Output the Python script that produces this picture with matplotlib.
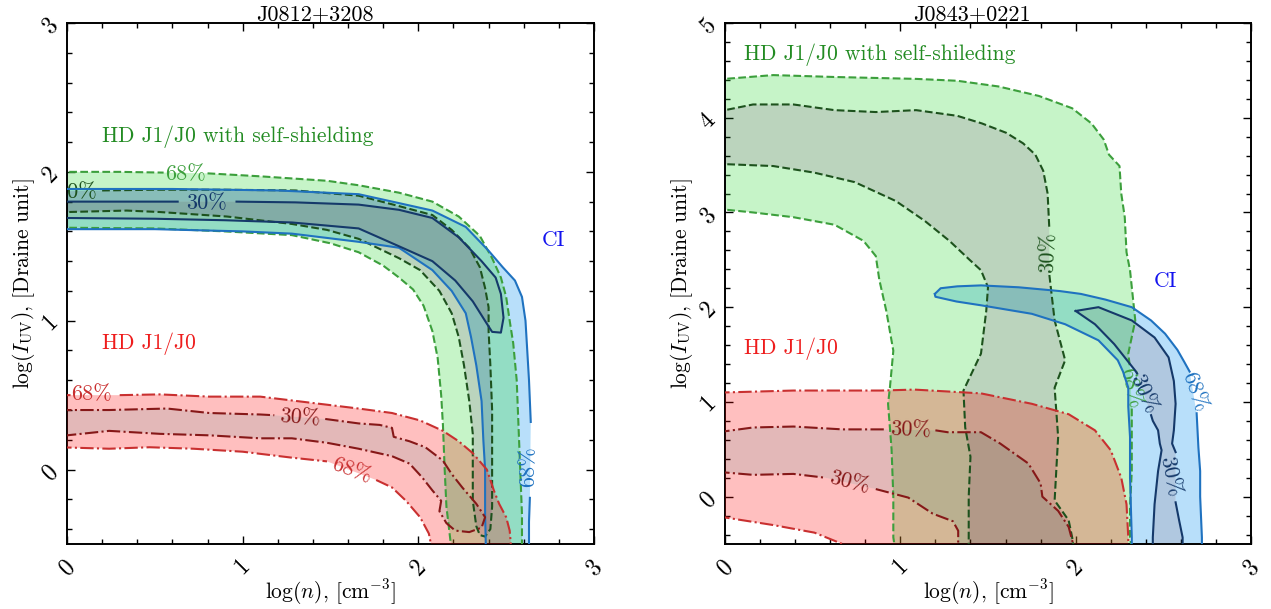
import numpy as np
import matplotlib
matplotlib.use("Agg")
import matplotlib.pyplot as plt
from matplotlib.path import Path
from matplotlib.patches import PathPatch
from matplotlib.ticker import MultipleLocator

plt.rcParams.update({
    "font.family": "serif",
    "font.serif": ["cmr10"],
    "mathtext.fontset": "cm",
    "axes.formatter.use_mathtext": True,
    "font.size": 15,
    "axes.linewidth": 1.4,
})

# ---------------- data: contour boundaries ----------------
# None marks a gap in the drawn line (where a contour label sits)

# ---- left panel: J0812+3208 ----
L_G68_UP = [(-0.05, 2.00), (0.30, 2.00), (0.55, 1.995), None, (0.80, 1.99), (1.10, 1.97),
            (1.48, 1.94), (1.66, 1.91), (1.89, 1.86), (2.08, 1.80), (2.23, 1.70), (2.35, 1.57),
            (2.42, 1.42), (2.47, 1.29), (2.50, 1.16), (2.52, 1.00), (2.54, 0.85), (2.56, 0.60),
            (2.57, 0.30), (2.58, 0.00), (2.59, -0.30), (2.59, -0.55)]
L_G68_LO = [(-0.05, 1.625), (0.50, 1.62), (0.90, 1.60), (1.28, 1.575), (1.50, 1.52),
            (1.66, 1.46), (1.80, 1.37), (1.89, 1.29), (1.97, 1.21), (2.03, 1.10), (2.08, 0.93),
            (2.11, 0.75), (2.13, 0.50), (2.14, 0.30), (2.15, 0.00), (2.16, -0.25), (2.19, -0.55)]
L_G30_UP = [(-0.05, 1.87), (0.00, 1.87), None, (0.20, 1.875), (0.50, 1.88), (0.90, 1.88),
            (1.30, 1.875), (1.66, 1.84), (1.89, 1.77), (2.08, 1.71), (2.19, 1.61), (2.29, 1.49),
            (2.35, 1.36), (2.38, 1.22), (2.40, 1.09), (2.40, 0.93), (2.41, 0.70), (2.42, 0.40),
            (2.42, 0.00), (2.42, -0.25), (2.41, -0.40), (2.38, -0.45), (2.35, -0.44)]
L_G30_LO = [(-0.05, 1.73), (0.00, 1.73), (0.34, 1.74), (0.53, 1.73), (0.91, 1.70),
            (1.28, 1.65), (1.48, 1.61), (1.66, 1.55), (1.89, 1.42), (2.01, 1.34), (2.12, 1.20),
            (2.19, 1.05), (2.23, 0.89), (2.26, 0.70), (2.29, 0.46), (2.31, 0.24), (2.31, -0.21),
            (2.33, -0.38), (2.35, -0.44)]
L_B68_UP = [(-0.05, 1.885), (0.60, 1.885), (1.20, 1.875), (1.66, 1.85), (1.89, 1.79),
            (2.08, 1.74), (2.27, 1.63), (2.40, 1.47), (2.48, 1.36), (2.55, 1.27), (2.59, 1.16),
            (2.61, 1.00), (2.62, 0.80), (2.63, 0.60), (2.64, 0.32), None, (2.635, -0.19),
            (2.63, -0.35), (2.63, -0.55)]
L_B68_LO = [(-0.05, 1.615), (0.50, 1.615), (1.00, 1.60), (1.28, 1.585), (1.66, 1.53),
            (1.89, 1.49), (2.08, 1.34), (2.19, 1.20), (2.27, 1.05), (2.30, 0.89), (2.33, 0.70),
            (2.36, 0.46), (2.37, 0.20), (2.38, 0.00), (2.38, -0.30), (2.385, -0.55)]
L_B30 = [(-0.05, 1.80), (0.30, 1.80), (0.63, 1.80), None, (0.965, 1.80), (1.30, 1.795),
         (1.66, 1.78), (1.89, 1.745), (2.08, 1.69), (2.23, 1.56), (2.36, 1.40), (2.44, 1.29),
         (2.47, 1.18), (2.485, 1.02), (2.47, 0.92), (2.42, 0.925), (2.39, 0.98), (2.31, 1.13),
         (2.21, 1.27), (2.08, 1.40), (1.89, 1.50), (1.66, 1.62), (1.28, 1.66), (0.90, 1.675),
         (0.50, 1.685), (0.00, 1.69), (-0.05, 1.69)]
L_R68_UP = [(-0.05, 0.50), (0.02, 0.50), None, (0.30, 0.50), (0.53, 0.505), (0.81, 0.49),
            (1.10, 0.49), (1.38, 0.45), (1.66, 0.41), (1.85, 0.38), (2.01, 0.33), (2.14, 0.26),
            (2.23, 0.19), (2.31, 0.11), (2.39, 0.00), (2.43, -0.14), (2.46, -0.23), (2.50, -0.32),
            (2.52, -0.41), (2.53, -0.55)]
L_R68_LO = [(-0.05, 0.15), (0.24, 0.14), (0.47, 0.15), (0.72, 0.14), (1.00, 0.12),
            (1.28, 0.08), (1.48, 0.055), None, (1.76, -0.07), (1.85, -0.12), (1.93, -0.21),
            (2.01, -0.32), (2.06, -0.43), (2.08, -0.55)]
L_R30 = [(-0.05, 0.40), (0.24, 0.40), (0.57, 0.41), (0.81, 0.38), (1.10, 0.37), (1.18, 0.365),
         None, (1.47, 0.34), (1.66, 0.31), (1.78, 0.30), (1.85, 0.28), (1.86, 0.22), (1.95, 0.19),
         (2.04, 0.15), (2.14, 0.06), (2.19, -0.03), (2.25, -0.12), (2.33, -0.23), (2.38, -0.32),
         (2.36, -0.39), (2.29, -0.42), (2.21, -0.41), (2.16, -0.36), (2.12, -0.28), (2.13, -0.21),
         (2.08, -0.14), (2.02, -0.05), (1.95, 0.04), (1.85, 0.09), (1.66, 0.14), (1.48, 0.18),
         (1.28, 0.21), (1.10, 0.21), (0.81, 0.23), (0.53, 0.24), (0.24, 0.26), (0.00, 0.23),
         (-0.05, 0.23)]

# ---- right panel: J0843+0221 ----
R_G68_UP = [(-0.05, 4.41), (0.00, 4.41), (0.275, 4.45), (0.625, 4.43), (1.09, 4.41),
            (1.325, 4.39), (1.56, 4.33), (1.79, 4.23), (1.98, 4.10), (2.09, 3.94), (2.16, 3.77),
            (2.19, 3.61), (2.25, 3.49), (2.26, 3.20), (2.28, 2.95), (2.29, 2.58), (2.31, 2.39),
            (2.34, 1.86), (2.30, 1.51), (2.31, 1.36), None, (2.32, 0.93), (2.32, 0.60),
            (2.32, 0.27), (2.31, -0.10), (2.31, -0.43), (2.32, -0.55)]
R_G68_LO = [(-0.05, 3.03), (0.00, 3.03), (0.16, 3.00), (0.39, 2.95), (0.625, 2.87),
            (0.79, 2.70), (0.86, 2.54), (0.88, 2.29), (0.92, 1.96), (0.96, 1.54), (0.94, 1.14),
            (0.93, 0.98), (0.95, 0.50), (0.96, 0.00), (0.96, -0.43), (0.97, -0.55)]
R_G30_UP = [(-0.05, 4.08), (0.00, 4.08), (0.16, 4.14), (0.39, 4.14), (0.625, 4.08),
            (0.86, 4.06), (1.09, 4.08), (1.325, 4.02), (1.465, 3.94), (1.605, 3.84), (1.70, 3.73),
            (1.77, 3.61), (1.815, 3.44), (1.84, 3.20), (1.85, 2.82), None, (1.85, 2.34),
            (1.88, 1.86), (1.94, 1.44), (1.88, 1.15), (1.90, 0.63), (1.88, -0.04), (1.96, -0.25),
            (1.98, -0.43), (1.99, -0.55)]
R_G30_LO = [(-0.05, 3.51), (0.00, 3.51), (0.275, 3.49), (0.51, 3.42), (0.74, 3.32),
            (0.975, 3.12), (1.14, 2.91), (1.28, 2.70), (1.395, 2.50), (1.46, 2.39), (1.50, 2.21),
            (1.49, 1.96), (1.46, 1.51), (1.36, 1.12), (1.37, 0.73), (1.40, 0.42), (1.39, 0.00),
            (1.39, -0.43), (1.39, -0.55)]
R_B68 = [(1.197, 2.14), (1.23, 2.20), (1.325, 2.22), (1.46, 2.23), (1.675, 2.21), (1.91, 2.17),
         (2.03, 2.14), (2.17, 2.08), (2.32, 2.00), (2.43, 1.86), (2.51, 1.72), (2.58, 1.55),
         (2.62, 1.42), (2.65, 1.32), None, (2.69, 0.88), (2.70, 0.52), (2.71, 0.27),
         (2.71, 0.00), (2.72, -0.43), (2.72, -0.55), (2.32, -0.55), (2.32, -0.43), (2.31, 0.20),
         (2.31, 0.63), (2.30, 0.95), (2.30, 1.15), (2.27, 1.32), (2.24, 1.44), (2.13, 1.65),
         (1.94, 1.82), (1.75, 1.93), (1.46, 2.02), (1.32, 2.06), (1.20, 2.11), (1.197, 2.14)]
R_B30 = [(2.00, 1.96), (2.13, 2.00), (2.32, 1.86), (2.45, 1.68), (2.53, 1.47), (2.56, 1.22),
         (2.57, 0.98), (2.56, 0.70), (2.55, 0.56), (2.57, 0.47), None, (2.57, -0.06),
         (2.59, -0.25), (2.61, -0.43), (2.61, -0.55), (2.44, -0.55), (2.44, -0.43), (2.45, -0.08),
         (2.47, 0.27), (2.49, 0.49), (2.48, 0.56), (2.47, 0.70), (2.44, 0.80), (2.43, 0.86), None,
         (2.35, 1.30), (2.34, 1.33), (2.22, 1.61), (2.11, 1.82), (2.00, 1.96)]
R_R68_UP = [(-0.05, 1.10), (0.00, 1.10), (0.39, 1.12), (0.89, 1.12), (1.08, 1.13), (1.46, 1.09),
            (1.75, 0.98), (1.96, 0.87), (2.11, 0.70), (2.20, 0.49), (2.26, 0.20), (2.29, -0.08),
            (2.30, -0.43), (2.30, -0.55)]
R_R68_LO = [(-0.05, -0.22), (0.00, -0.22), (0.275, -0.30), (0.51, -0.38), (0.67, -0.50),
            (0.70, -0.55)]
R_R30_UP = [(-0.05, 0.69), (0.00, 0.69), (0.16, 0.73), (0.39, 0.74), (0.67, 0.71), (0.92, 0.71),
            None, (1.20, 0.70), (1.27, 0.68), (1.46, 0.68), (1.57, 0.56), (1.73, 0.35),
            (1.80, 0.14), (1.81, 0.00), (1.90, -0.15), (1.96, -0.32), (1.98, -0.46), (1.99, -0.55)]
R_R30_LO = [(-0.05, 0.255), (0.00, 0.255), (0.16, 0.23), (0.39, 0.24), (0.57, 0.20), None,
            (0.86, 0.08), (1.045, -0.01), (1.185, -0.18), (1.30, -0.26), (1.33, -0.36),
            (1.33, -0.46), (1.33, -0.55)]

# contour labels: (text, x, y, rotation, colour key)
L_LABELS = [("68%", 0.675, 1.985, 0, "g68"), ("30%", 0.055, 1.865, 0, "g30"),
            ("30%", 0.795, 1.79, 0, "b30"), ("68%", 2.625, 0.02, 90, "b68"),
            ("68%", 0.14, 0.505, 0, "r68"), ("30%", 1.325, 0.35, -4, "r30"),
            ("68%", 1.62, -0.005, -20, "r68")]
R_LABELS = [("30%", 1.845, 2.58, 88, "g30"), ("68%", 2.31, 1.15, -76, "g68"),
            ("30%", 2.385, 1.08, -66, "b30"), ("30%", 2.54, 0.21, -78, "b30"),
            ("68%", 2.675, 1.11, -70, "b68"), ("30%", 1.06, 0.70, -2, "r30"),
            ("30%", 0.71, 0.15, -14, "r30")]

TITLES = ["J0812+3208", "J0843+0221"]
YLIMS = [(-0.5, 3.0), (-0.5, 5.0)]
XTICKS = [0, 1, 2, 3]
YTICKS = [[0, 1, 2, 3], [0, 1, 2, 3, 4, 5]]
# annotation texts: (text, x, y, colour key)
L_TEXTS = [("HD J1/J0 with self-shielding", 0.20, 2.235, "tg"), ("HD J1/J0", 0.20, 0.845, "tr"),
           ("CI", 2.70, 1.54, "tb")]
R_TEXTS = [("HD J1/J0 with self-shileding", 0.107, 4.67, "tg"), ("HD J1/J0", 0.107, 1.56, "tr"),
           ("CI", 2.445, 2.27, "tb")]

# ---------------- styles ----------------
FILL = {"b68": ("#28a0f0", 0.33), "b30": ("#1058a1", 0.33),
        "g68": ("#33d83b", 0.28), "g30": ("#0c6513", 0.28),
        "r68": ("#ff0303", 0.25), "r30": ("#9b0101", 0.28)}
LINE = {"b68": "#1f72c0", "b30": "#15396a", "g68": "#3c9f3c", "g30": "#1d521d",
        "r68": "#c93030", "r30": "#861818"}
TEXTC = {"tg": "#228b22", "tr": "#ee1c1c", "tb": "#1414ee"}
LS = {"b": "-", "g": "--", "r": "-."}


def pts(c):
    return np.array([p for p in c if p is not None], float)


def linexy(c):
    return np.array([(np.nan, np.nan) if p is None else p for p in c], float)


def region(curves):
    if len(curves) == 2:
        return np.vstack([pts(curves[0]), pts(curves[1])[::-1]])
    return pts(curves[0])


def sarea(a):
    x, y = a[:, 0], a[:, 1]
    return 0.5 * np.sum(x * np.roll(y, -1) - np.roll(x, -1) * y)


def ring_path(outer, hole=None):
    rings = [outer]
    if hole is not None:
        if np.sign(sarea(hole)) == np.sign(sarea(outer)):
            hole = hole[::-1]
        rings.append(hole)
    verts, codes = [], []
    for r in rings:
        verts.extend(list(r) + [r[0]])
        codes.extend([Path.MOVETO] + [Path.LINETO] * (len(r) - 1) + [Path.CLOSEPOLY])
    return Path(np.array(verts), codes)


def draw_set(ax, key, c68, c30, z):
    o, i = region(c68), region(c30)
    col, a = FILL[key + "68"]
    ax.add_patch(PathPatch(ring_path(o, i), fc=col, ec="none", alpha=a, zorder=z))
    col, a = FILL[key + "30"]
    ax.add_patch(PathPatch(ring_path(i), fc=col, ec="none", alpha=a, zorder=z))


def draw_lines(ax, key, c68, c30, z):
    for curves, lev in ((c68, "68"), (c30, "30")):
        for c in curves:
            xy = linexy(c)
            ax.plot(xy[:, 0], xy[:, 1], ls=LS[key], color=LINE[key + lev], lw=1.5, zorder=z)


def draw_labels(ax, labels, key, z):
    for t, x, y, rot, ck in labels:
        if ck[0] != key:
            continue
        ax.text(x, y, t, color=LINE[ck], fontsize=16, rotation=rot, ha="center",
                va="center", rotation_mode="anchor", clip_on=True, zorder=z)


fig = plt.figure(figsize=(12.71, 6.09), dpi=100)
ax1 = fig.add_axes([67 / 1271, 65 / 609, 527 / 1271, 521 / 609])
ax2 = fig.add_axes([725 / 1271, 65 / 609, 526 / 1271, 521 / 609])

panels = [
    (ax1, {"b": ([L_B68_UP, L_B68_LO], [L_B30]),
           "g": ([L_G68_UP, L_G68_LO], [L_G30_UP, L_G30_LO]),
           "r": ([L_R68_UP, L_R68_LO], [L_R30])}, L_LABELS, L_TEXTS),
    (ax2, {"b": ([R_B68], [R_B30]),
           "g": ([R_G68_UP, R_G68_LO], [R_G30_UP, R_G30_LO]),
           "r": ([R_R68_UP, R_R68_LO], [R_R30_UP, R_R30_LO])}, R_LABELS, R_TEXTS),
]

for k, (ax, sets, labels, texts) in enumerate(panels):
    for j, key in enumerate(["b", "g", "r"]):
        draw_set(ax, key, sets[key][0], sets[key][1], 1 + j)
    for j, key in enumerate(["g", "b", "r"]):
        draw_lines(ax, key, sets[key][0], sets[key][1], 5 + 2 * j)
        draw_labels(ax, labels, key, 5 + 2 * j)
    for t, x, y, ck in texts:
        ax.text(x, y, t, color=TEXTC[ck], fontsize=15.5, ha="left", va="center", zorder=20)
    ax.set_xlim(0, 3)
    ax.set_ylim(*YLIMS[k])
    ax.set_xticks(XTICKS)
    ax.set_yticks(YTICKS[k])
    ax.xaxis.set_minor_locator(MultipleLocator(0.2))
    ax.yaxis.set_minor_locator(MultipleLocator(0.2))
    ax.tick_params(which="both", direction="in", top=True, right=True, width=1.0)
    ax.tick_params(which="major", length=6, labelsize=17)
    ax.tick_params(which="minor", length=3.5)
    ax.tick_params(axis="x", labelrotation=45, pad=9)
    ax.tick_params(axis="y", labelrotation=45, pad=12)
    for lab in ax.get_yticklabels():
        lab.set_ha("center")
    ax.annotate(TITLES[k], xy=(0.47, 1.0), xycoords="axes fraction", xytext=(0, 2),
                textcoords="offset points", ha="center", va="baseline", fontsize=16)
    ax.set_xlabel(r"$\log(n)$, [cm$^{-3}$]", fontsize=15.5, labelpad=-3)
    ax.set_ylabel(r"$\log(I_{\rm UV})$, [Draine unit]", fontsize=15.5, labelpad=1)

fig.savefig("out.png", dpi=100)
